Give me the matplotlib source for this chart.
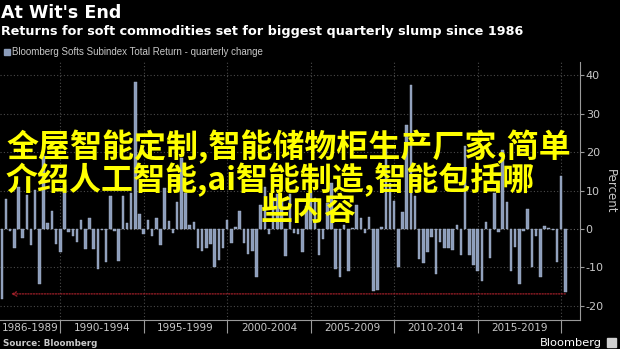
import matplotlib
matplotlib.use("Agg")
import matplotlib.pyplot as plt
import numpy as np
import pandas as pd
from matplotlib.patches import Rectangle

# ---------------- data ----------------
quarters = pd.period_range("1986Q2", "2020Q1", freq="Q")
values = [
    -18.3, 7.7, -0.5,                      # 1986
    -5.0, 11.0, -2.4, 8.9,                 # 1987
    -4.1, 10.1, -14.4, 19.0,               # 1988
    1.5, 4.8, -3.8, -6.0,                  # 1989
    11.5, -0.7, -1.7, -3.5,                # 1990
    2.3, -5.3, 2.8, -5.3,                  # 1991
    -10.3, -0.3, -8.5, 8.7,                # 1992
    -0.4, -8.4, 8.6, 1.5,                  # 1993
    9.4, 38.3, 3.9, -1.3,                  # 1994
    2.3, -1.7, 2.8, -4.2,                  # 1995
    10.7, 2.0, -1.1, 7.0,                  # 1996
    18.5, 9.3, 1.0, 1.7,                   # 1997
    -5.0, -5.6, -4.9, -3.9,                # 1998
    -9.8, -8.1, -5.0, 2.3,                 # 1999
    -3.7, 0.6, 4.6, -3.7,                  # 2000
    -6.5, -5.7, -12.6, 6.3,                # 2001
    11.0, -1.3, 8.0, 9.0,                  # 2002
    7.5, -7.1, 9.0, -1.0,                  # 2003
    -1.4, -5.9, 6.0, 10.0,                 # 2004
    8.0, -6.7, -2.5, 6.7,                  # 2005
    12.0, -10.3, -12.5, 1.0,               # 2006
    -11.0, 0.3, 6.3, 2.8,                  # 2007
    -1.0, 3.1, -16.1, -15.8,               # 2008
    0.4, 22.0, 12.0, 7.3,                  # 2009
    -10.0, 4.5, 27.2, 37.5,                # 2010
    8.6, -7.7, -8.8, -5.9,                 # 2011
    -2.0, -11.7, -3.3, -5.0,               # 2012
    -5.0, -5.5, 1.0, -6.8,                 # 2013
    21.6, -6.8, -9.3, -11.0,               # 2014
    -13.5, 1.7, -7.5, 9.5,                 # 2015
    -0.9, 20.5, 7.0, -11.0,                # 2016
    -4.8, -14.2, -0.5, 5.2,                # 2017
    -10.0, -1.8, -12.4, 0.8,               # 2018
    0.3, -0.2, -8.5, 13.9,                 # 2019
    -16.4,                                 # 2020
]
period_labels = ["1986-1989", "1990-1994", "1995-1999", "2000-2004",
                 "2005-2009", "2010-2014", "2015-2019"]
period_starts = [1986, 1990, 1995, 2000, 2005, 2010, 2015]
period_ends = [1990, 1995, 2000, 2005, 2010, 2015, 2020]
y_ticks = [-20, -10, 0, 10, 20, 30, 40]
record_level = -16.9

title = "At Wit's End"
subtitle = "Returns for soft commodities set for biggest quarterly slump since 1986"
legend_label = "Bloomberg Softs Subindex Total Return - quarterly change"
source_text = "Source: Bloomberg"
brand_text = "Bloomberg"
overlay_lines = ["全屋智能定制,智能储物柜生产厂家,简单",
                 "介绍人工智能,ai智能制造,智能包括哪",
                 "些内容"]

# ---------------- style ----------------
BG = "#000000"
BAR = "#8c9dbb"
GRID = "#4a4a4a"
AXC = "#9a9a9a"
TXT = "#c8c8c8"

W, H = 620, 349
fig = plt.figure(figsize=(W / 100, H / 100), dpi=100, facecolor=BG)

def fx(px):
    return px / W

def fy(py):
    return 1 - py / H

ax = fig.add_axes([0, fy(320), fx(579.5), fy(62) - fy(320)])
ax.set_facecolor(BG)

xpos = np.array([p.year + p.quarter / 4 for p in quarters])
ax.bar(xpos, values, width=0.15, color=BAR, edgecolor="#a9b6cc", linewidth=0.3, zorder=3)

x0, x1 = 1986.39, 2021.10
ax.set_xlim(x0, x1)
ax.set_ylim(-23.7, 43.5)

# grid
for yv in y_ticks:
    ax.axhline(yv, color=("#6a6a6a" if yv == 0 else GRID), lw=0.8,
               ls=(0, (1, 2)), zorder=1)
for xv in period_ends:
    ax.axvline(xv, color=GRID, lw=0.8, ls=(0, (1, 2)), zorder=1)

# spines
for s in ["top", "left"]:
    ax.spines[s].set_visible(False)
ax.spines["bottom"].set_color(AXC)
ax.spines["right"].set_color(AXC)
ax.spines["bottom"].set_linewidth(0.8)
ax.spines["right"].set_linewidth(0.8)

# y axis on right
ax.yaxis.tick_right()
ax.yaxis.set_label_position("right")
ax.set_yticks(y_ticks)
ax.set_yticklabels([str(v) for v in y_ticks])
ax.tick_params(axis="y", colors=AXC, labelcolor=TXT, labelsize=8, length=3,
               width=0.8, pad=1.5)
ax.set_ylabel("Percent", rotation=270, color=TXT, fontsize=8.5, labelpad=9)

# x axis: separators as major ticks, labels as minor ticks
ax.set_xticks(period_ends)
ax.set_xticklabels([])
ax.tick_params(axis="x", which="major", colors=AXC, length=9.5, width=0.8)
centers = [(max(s, x0) + e) / 2 for s, e in zip(period_starts, period_ends)]
ax.set_xticks(centers, minor=True)
ax.set_xticklabels(period_labels, minor=True)
ax.tick_params(axis="x", which="minor", length=0, labelcolor=TXT,
               labelsize=7.5, pad=2)

# record arrow
ax.annotate("", xy=(xpos[0] + 0.55, record_level), xytext=(xpos[-1], record_level),
            arrowprops=dict(arrowstyle="->", color="#a3202a", lw=0.9,
                            linestyle=(0, (1, 1.2)), mutation_scale=8,
                            shrinkA=0, shrinkB=0),
            zorder=4)

# titles
fig.text(fx(1), fy(13.5), title, color="white", fontsize=12.6,
         fontweight="bold", va="center", ha="left")
fig.text(fx(1), fy(31.5), subtitle, color="white", fontsize=9.2,
         fontweight="bold", va="center", ha="left")
fig.patches.append(Rectangle((fx(4), fy(55)), fx(6), fy(49) - fy(55),
                             transform=fig.transFigure, color=BAR))
fig.text(fx(11.5), fy(52), legend_label, color=TXT, fontsize=7.0,
         family="Liberation Sans", va="center", ha="left")

fig.text(fx(3), fy(343), source_text, color=TXT, fontsize=6.3,
         fontweight="bold", va="center", ha="left")
fig.text(fx(602), fy(343), brand_text, color="white", fontsize=8.2,
         va="center", ha="right")
fig.patches.append(Rectangle((fx(607), fy(347)), fx(9), fy(338) - fy(347),
                             transform=fig.transFigure, color="#d0d0d0"))

# overlay text
cjk = ["Noto Sans CJK SC", "DejaVu Sans"]
for line, px, py in zip(overlay_lines, [6, 6, 261], [146.5, 180, 211]):
    fig.text(fx(px), fy(py), line, color="#ffff00", fontsize=23.0,
             family=cjk, fontweight="bold", va="center", ha="left")

fig.savefig("out.png", dpi=100, facecolor=BG)
